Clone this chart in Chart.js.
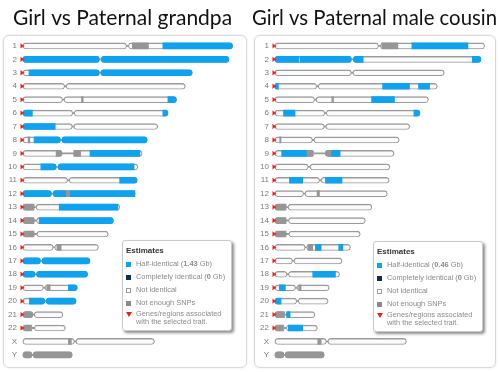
<!DOCTYPE html>
<html>
<head>
<meta charset="utf-8">
<script src="https://cdn.jsdelivr.net/npm/chart.js@4.4.0/dist/chart.umd.min.js"></script>
<style>
  body { margin: 0; width: 500px; height: 372px; background: #fff; position: relative; overflow: hidden; font-family: "Liberation Sans", Arial, sans-serif; }
  .panel { position: absolute; top: 35px; height: 331px; border: 1px solid #d9d9d9; border-radius: 6px; box-shadow: 0 0 2px rgba(0,0,0,0.12); }
  canvas { position: absolute; top: 0; }
  .legend { position: absolute; top: 240px; width: 110px; height: 91px; box-sizing: border-box; background: #fff; border: 1px solid #c9c9c9; border-radius: 3px; box-shadow: 2px 2px 3px rgba(0,0,0,0.45); }
  .legend .head { position: absolute; left: 3px; top: 5px; font-size: 8px; font-weight: bold; color: #333; }
  .legend .row { position: absolute; left: 13px; font-size: 7.4px; line-height: 7.8px; color: #8a8a8a; white-space: nowrap; }
  .legend .sw { position: absolute; left: 3px; width: 5px; height: 5px; box-sizing: border-box; }
  .legend .tri { position: absolute; left: 3px; width: 0; height: 0; border-left: 3px solid transparent; border-right: 3px solid transparent; border-top: 5px solid #e8211c; }
</style>
</head>
<body>
<div class="panel" style="left:3px; width:242px;"></div>
<div class="panel" style="left:254px; width:240px;"></div>
<canvas id="grandpaChart" width="250" height="372" style="left:0"></canvas>
<canvas id="cousinChart" width="250" height="372" style="left:252px"></canvas>
<div class="legend" id="legendGrandpa" style="left:122px"></div>
<div class="legend" id="legendCousin" style="left:373px; top:241px"></div>
<script>
// Chromosomes (Mb)
const chrLabels = ['1','2','3','4','5','6','7','8','9','10','11','12','13','14','15','16','17','18','19','20','21','22','X','Y'];
const chrLength = [247.2, 242.9, 199.5, 191.3, 180.9, 170.9, 158.8, 146.3, 140.3, 135.4, 134.5, 132.3, 114.1, 106.4, 100.3, 88.8, 78.8, 76.1, 63.8, 62.4, 46.9, 49.7, 154.9, 57.8];
const pArmEnd   = [122, 90, 90, 49, 46.5, 58.5, 58, 44, 46, 39, 52.5, 33.5, 13.3, 13.3, 13.3, 35.5, 20.5, 14, 24, 25.5, 11.5, 11, 60.5, 10.5];
const qArmStart = [124.5, 92.5, 92, 51, 48.5, 60.5, 60, 46, 59.5, 41.5, 54.5, 35.5, 15.5, 16, 16.5, 37.5, 22.5, 16, 26, 27.5, 13.3, 13.5, 62.5, 12];
const markedChr = ['1','2','3','4','5','6','7','8','9','10','11','12','13','14','15','16','17','18','19','20','21','22'];

// Girl vs Paternal grandpa: [chromosome, start Mb, end Mb]
const grandpaHalf = [
  ['1', 165, 247.2], ['2', 0, 242.9], ['3', 7, 199.5], ['5', 171, 180.9],
  ['6', 0, 11], ['6', 165, 170.9], ['7', 0, 38], ['8', 13, 146.3],
  ['9', 79, 138], ['10', 21, 131], ['11', 114, 134.5],
  ['12', 0, 51], ['12', 55, 132], ['13', 42.7, 112], ['14', 19, 106.4],
  ['17', 0, 78.8], ['18', 0, 76.1], ['19', 53.5, 63.8], ['20', 7.5, 62.4]
];
const grandpaNoSnp = [
  ['1', 129, 148], ['5', 69, 71], ['8', 6, 8], ['9', 39, 46], ['9', 60, 68],
  ['12', 51, 55], ['13', 0, 13], ['14', 0, 13], ['15', 0, 13], ['16', 40, 45],
  ['19', 28, 32], ['21', 0, 11.5], ['22', 0, 10], ['X', 53.5, 57], ['Y', 0, 57.8]
];

// Girl vs Paternal male cousin
const cousinHalf = [
  ['1', 161.5, 227.7], ['2', 0, 28], ['2', 29.5, 104], ['2', 232.8, 242.9],
  ['4', 0, 4], ['4', 127, 158.7], ['4', 169.4, 182.4], ['5', 114, 141],
  ['6', 10, 23.6], ['6', 163.9, 170.9], ['9', 7.8, 37.8], ['9', 66, 76.8],
  ['11', 17, 32.7], ['11', 59.5, 79], ['16', 47.6, 54.4], ['16', 75.2, 80],
  ['18', 44.5, 71.3], ['19', 5, 12.2], ['20', 0, 7], ['21', 13.7, 17.7], ['22', 15.7, 32.7]
];
const cousinNoSnp = [
  ['1', 126, 145], ['5', 67, 69], ['8', 5.5, 7], ['9', 37.8, 44.5], ['9', 59.5, 66],
  ['12', 49.6, 52.4], ['13', 0, 13], ['14', 0, 13], ['15', 0, 13], ['16', 39, 44.5],
  ['19', 28, 30.7], ['21', 0, 11], ['22', 0, 10], ['X', 50.4, 54.4], ['Y', 0, 57.8]
];

const halfGb = ['1.43', '0.46'];
const identicalGb = ['0', '0'];

const colors = { blue: '#0ea2ef', gray: '#969696', arm: '#fbfbfb', armBorder: '#9a9a9a', red: '#e8211c' };
const R = 3;

function buildChart(canvasId, title, half, noSnp) {
  // split every segment into pieces that sit inside the two chromosome arms
  const pieces = chrLabels.map(() => []);
  const addPieces = (segs, kind) => segs.forEach(([chr, s, e]) => {
    const i = chrLabels.indexOf(chr);
    const arms = [[0, pArmEnd[i]], [qArmStart[i], chrLength[i]]];
    arms.forEach(([a, b]) => {
      const lo = Math.max(s, a), hi = Math.min(e, b);
      if (hi > lo) pieces[i].push({ lo, hi, kind, l: s <= a, r: e >= b });
    });
  });
  addPieces(noSnp, 'gray');
  addPieces(half, 'blue');

  const corner = p => ({ topLeft: p.l ? R : 0, bottomLeft: p.l ? R : 0, topRight: p.r ? R : 0, bottomRight: p.r ? R : 0 });
  const slots = Math.max(...pieces.map(p => p.length));
  const segDatasets = [];
  for (let k = 0; k < slots; k++) {
    segDatasets.push({
      data: pieces.map(p => p[k] ? [p[k].lo, p[k].hi] : null),
      backgroundColor: pieces.map(p => p[k] ? colors[p[k].kind] : 'transparent'),
      borderRadius: pieces.map(p => p[k] ? corner(p[k]) : 0),
      borderWidth: 0,
      borderSkipped: false,
      barThickness: 6,
      grouped: false,
      order: 5
    });
  }

  const armStyle = {
    backgroundColor: colors.arm,
    borderColor: colors.armBorder,
    borderWidth: { top: 1.5, bottom: 1, left: 1, right: 1 },
    borderRadius: R,
    borderSkipped: false,
    barThickness: 6,
    grouped: false,
    order: 20
  };

  return new Chart(document.getElementById(canvasId), {
    type: 'bar',
    data: {
      labels: chrLabels,
      datasets: [
        {
          type: 'line',
          data: markedChr.map(c => ({ x: -2.4, y: c })),
          showLine: false,
          pointStyle: 'triangle',
          rotation: 90,
          pointRadius: 3.2,
          pointBackgroundColor: colors.red,
          pointBorderColor: colors.red,
          pointBorderWidth: 0.5,
          order: 1
        },
        ...segDatasets,
        { ...armStyle, data: chrLength.map((len, i) => [0, pArmEnd[i]]) },
        { ...armStyle, data: chrLength.map((len, i) => [qArmStart[i], len]) },
        {
          data: chrLength.map(len => [0, len]),
          backgroundColor: colors.armBorder,
          borderWidth: 0,
          barThickness: 1.2,
          grouped: false,
          order: 30
        }
      ]
    },
    options: {
      indexAxis: 'y',
      responsive: false,
      animation: false,
      devicePixelRatio: 1,
      layout: { padding: { left: 0, right: 5, top: 0, bottom: 10.4 } },
      scales: {
        x: { type: 'linear', min: -3, max: 262, display: false },
        y: {
          type: 'category',
          offset: true,
          grid: { display: false, drawTicks: false },
          border: { display: false },
          ticks: { autoSkip: false, padding: 3.5, color: '#7a7a7a', font: { family: 'Liberation Sans', size: 8 } },
          afterFit: s => { s.width = 20.5; }
        }
      },
      plugins: {
        legend: { display: false },
        tooltip: { enabled: false },
        title: {
          display: true,
          text: title,
          color: '#111',
          font: { family: 'Lato', size: 21, weight: 'normal' },
          padding: { top: 6, bottom: 8 }
        }
      }
    }
  });
}

function buildLegend(id, idx) {
  const rows = [
    { y: 19, sw: 'background:' + colors.blue, html: 'Half-identical (<b>' + halfGb[idx] + '</b> Gb)' },
    { y: 32, sw: 'background:#0d2d55', html: 'Completely identical (<b>' + identicalGb[idx] + '</b> Gb)' },
    { y: 45, sw: 'background:#fff;border:1px solid #9a9a9a', html: 'Not identical' },
    { y: 58, sw: 'background:#8a8a8a', html: 'Not enough SNPs' },
    { y: 69, tri: true, html: 'Genes/regions associated<br>with the selected trait.' }
  ];
  let out = '<div class="head">Estimates</div>';
  rows.forEach(r => {
    out += r.tri ? '<div class="tri" style="top:' + (r.y + 1.5) + 'px"></div>'
                 : '<div class="sw" style="top:' + (r.y + 1.5) + 'px;' + r.sw + '"></div>';
    out += '<div class="row" style="top:' + r.y + 'px">' + r.html + '</div>';
  });
  document.getElementById(id).innerHTML = out;
}

buildChart('grandpaChart', 'Girl vs Paternal grandpa', grandpaHalf, grandpaNoSnp);
buildChart('cousinChart', 'Girl vs Paternal male cousin', cousinHalf, cousinNoSnp);
buildLegend('legendGrandpa', 0);
buildLegend('legendCousin', 1);
</script>
</body>
</html>
